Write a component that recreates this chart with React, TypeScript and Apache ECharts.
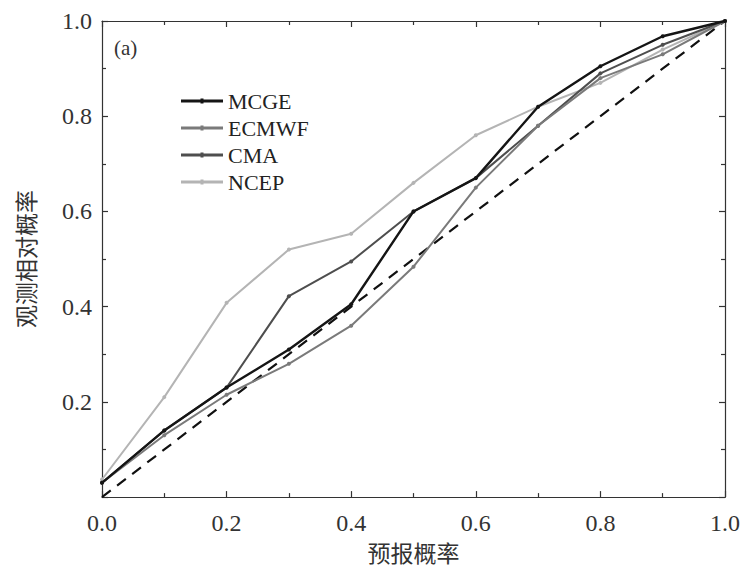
import React, { useEffect, useRef } from "react";
import * as echarts from "echarts";

const probs = [0, 0.1, 0.2, 0.3, 0.4, 0.5, 0.6, 0.7, 0.8, 0.9, 1.0];
const mcge = [0.03, 0.14, 0.23, 0.31, 0.405, 0.6, 0.67, 0.82, 0.905, 0.968, 1.0];
const ecmwf = [0.03, 0.13, 0.215, 0.28, 0.36, 0.484, 0.65, 0.78, 0.88, 0.93, 1.0];
const cma = [0.03, 0.14, 0.23, 0.422, 0.495, 0.6, 0.67, 0.78, 0.89, 0.95, 1.0];
const ncep = [0.037, 0.21, 0.408, 0.52, 0.553, 0.66, 0.76, 0.82, 0.87, 0.94, 1.0];
const diagonal = [0, 1];
const seriesNames = ["MCGE", "ECMWF", "CMA", "NCEP"];
const seriesColors = ["#151515", "#7a7a7a", "#4e4e4e", "#b4b4b4"];

const SERIF = "'Liberation Serif', 'DejaVu Serif', serif";
const CJK = "'Noto Sans CJK SC', sans-serif";
const LEGEND_ICON = "path://M0,5 H42 V8 H0 Z M19.5,4 H22.5 V9 H19.5 Z";

export default function App() {
  const ref = useRef<HTMLDivElement>(null);
  useEffect(() => {
    if (!ref.current) return;
    const chart = echarts.init(ref.current, undefined, { renderer: "svg" });
    const values = [mcge, ecmwf, cma, ncep];
    const fmt = (v: number) => v.toFixed(1);
    const tickCommon = {
      axisTick: { show: true, inside: true, length: 6, lineStyle: { color: "#333", width: 1.2 } },
      minorTick: { show: true, splitNumber: 2, length: 4, lineStyle: { color: "#333", width: 1.2 } },
      axisLine: { show: true, onZero: false, lineStyle: { color: "#333", width: 1.2 } },
      splitLine: { show: false },
      min: 0,
      max: 1,
      interval: 0.2,
    };
    const option: any = {
      animation: false,
      backgroundColor: "#ffffff",
      grid: { left: 102, top: 21, right: 20, bottom: 65, containLabel: false },
      legend: {
        data: seriesNames.map((n) => ({ name: n, icon: LEGEND_ICON })),
        orient: "vertical",
        left: 176,
        top: 85,
        itemWidth: 42,
        itemHeight: 10,
        itemGap: 5,
        textStyle: { fontFamily: SERIF, fontSize: 22, color: "#222" },
      },
      graphic: [
        {
          type: "text",
          left: 114,
          top: 37,
          style: { text: "(a)", font: `21px ${SERIF}`, fill: "#333" },
        },
      ],
      xAxis: [
        {
          type: "value",
          position: "bottom",
          ...tickCommon,
          axisLabel: { formatter: fmt, fontFamily: SERIF, fontSize: 24, color: "#333", margin: 14 },
          name: "预报概率",
          nameLocation: "middle",
          nameGap: 40,
          nameTextStyle: { fontFamily: CJK, fontSize: 23, color: "#333" },
        },
        {
          type: "value",
          position: "top",
          ...tickCommon,
          axisLabel: { show: false },
        },
      ],
      yAxis: [
        {
          type: "value",
          position: "left",
          ...tickCommon,
          axisLabel: {
            formatter: (v: number) => (v === 0 ? "" : fmt(v)),
            fontFamily: SERIF,
            fontSize: 24,
            color: "#333",
            margin: 10,
          },
          name: "观测相对概率",
          nameLocation: "middle",
          nameGap: 66,
          nameRotate: 90,
          nameTextStyle: { fontFamily: CJK, fontSize: 23, color: "#333" },
        },
        {
          type: "value",
          position: "right",
          ...tickCommon,
          axisLabel: { show: false },
        },
      ],
      series: [
        {
          name: "diag",
          type: "line",
          data: diagonal.map((v) => [v, v]),
          symbol: "none",
          lineStyle: { color: "#111", width: 2.2, type: [11, 8] },
          silent: true,
          z: 1,
        },
        ...seriesNames.map((name, i) => ({
          name,
          type: "line",
          data: probs.map((p, j) => [p, values[i][j]]),
          symbol: "circle",
          symbolSize: 4,
          itemStyle: { color: seriesColors[i] },
          lineStyle: { color: seriesColors[i], width: i === 0 ? 2.4 : 2 },
          z: 2 + (3 - i),
        })),
      ],
    };
    chart.setOption(option);
    return () => chart.dispose();
  }, []);
  return (
    <div
      ref={ref}
      style={{ position: "absolute", left: 0, top: 0, width: 745, height: 568 }}
    />
  );
}
